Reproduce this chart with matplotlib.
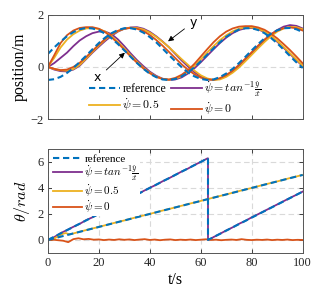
import numpy as np
import matplotlib
matplotlib.use("Agg")
import matplotlib.pyplot as plt

plt.rcParams['font.family'] = ['Liberation Serif', 'DejaVu Serif']
plt.rcParams['mathtext.fontset'] = 'cm'

BLUE = '#0072BD'
ORANGE = '#D95319'
YELLOW = '#EDB120'
PURPLE = '#7E2F8E'

# ---- top panel: positions sampled every 2.5 s ----
t_pos = np.linspace(0, 100, 41)
x_ref = [0.50, 0.75, 0.98, 1.18, 1.34, 1.45, 1.50, 1.48, 1.41, 1.28, 1.10, 0.88, 0.64, 0.39,
         0.15, -0.07, -0.26, -0.39, -0.48, -0.50, -0.46, -0.36, -0.21, -0.01, 0.22, 0.47, 0.72,
         0.95, 1.16, 1.32, 1.44, 1.49, 1.49, 1.42, 1.30, 1.12, 0.91, 0.67, 0.42, 0.18, -0.04]
y_ref = [-0.50, -0.47, -0.38, -0.23, -0.04, 0.19, 0.43, 0.68, 0.92, 1.13, 1.30, 1.42, 1.49, 1.49,
         1.44, 1.32, 1.15, 0.95, 0.71, 0.46, 0.22, -0.01, -0.21, -0.36, -0.46, -0.50, -0.48,
         -0.39, -0.25, -0.07, 0.15, 0.39, 0.64, 0.88, 1.10, 1.28, 1.41, 1.49, 1.50, 1.45, 1.34]
x_tan = [0.00, 0.15, 0.35, 0.55, 0.80, 1.02, 1.18, 1.30, 1.36, 1.36, 1.26, 1.06, 0.80, 0.52,
         0.26, 0.03, -0.18, -0.34, -0.45, -0.50, -0.48, -0.40, -0.25, -0.05, 0.18, 0.43, 0.68,
         0.92, 1.13, 1.30, 1.42, 1.49, 1.50, 1.45, 1.34, 1.18, 0.97, 0.74, 0.50, 0.26, 0.03]
y_tan = [0.00, -0.10, -0.16, -0.17, -0.10, 0.05, 0.30, 0.55, 0.78, 1.00, 1.20, 1.36, 1.47, 1.52,
         1.53, 1.47, 1.35, 1.18, 0.98, 0.76, 0.50, 0.25, 0.02, -0.20, -0.36, -0.47, -0.50,
         -0.45, -0.33, -0.16, 0.06, 0.30, 0.55, 0.80, 1.04, 1.25, 1.42, 1.55, 1.61, 1.58, 1.48]
x_05 = [0.00, 0.35, 0.75, 1.05, 1.26, 1.40, 1.48, 1.50, 1.46, 1.36, 1.18, 0.96, 0.71, 0.45,
        0.20, -0.03, -0.22, -0.37, -0.46, -0.49, -0.45, -0.35, -0.18, 0.04, 0.29, 0.55, 0.80,
        1.03, 1.22, 1.37, 1.47, 1.52, 1.52, 1.47, 1.36, 1.20, 1.00, 0.77, 0.53, 0.29, 0.05]
y_05 = [0.00, -0.08, -0.13, -0.14, -0.08, 0.08, 0.32, 0.58, 0.82, 1.05, 1.24, 1.38, 1.47, 1.51,
        1.50, 1.44, 1.32, 1.16, 0.97, 0.76, 0.53, 0.30, 0.08, -0.14, -0.32, -0.44, -0.50,
        -0.48, -0.38, -0.22, -0.02, 0.22, 0.47, 0.72, 0.96, 1.18, 1.36, 1.48, 1.54, 1.53, 1.45]
x_0 = [0.00, 0.45, 0.92, 1.22, 1.40, 1.50, 1.53, 1.53, 1.47, 1.34, 1.14, 0.92, 0.66, 0.40,
       0.16, -0.06, -0.24, -0.38, -0.46, -0.48, -0.42, -0.30, -0.12, 0.12, 0.40, 0.68, 0.95,
       1.18, 1.36, 1.48, 1.55, 1.57, 1.57, 1.52, 1.43, 1.28, 1.10, 0.88, 0.65, 0.40, 0.14]
y_0 = [0.00, -0.07, -0.12, -0.10, 0.00, 0.16, 0.38, 0.62, 0.86, 1.08, 1.26, 1.39, 1.47, 1.50,
       1.47, 1.38, 1.23, 1.04, 0.82, 0.58, 0.34, 0.10, -0.11, -0.28, -0.41, -0.48, -0.49,
       -0.43, -0.31, -0.14, 0.08, 0.32, 0.57, 0.82, 1.05, 1.25, 1.40, 1.49, 1.52, 1.49, 1.40]

# ---- bottom panel: heading ----
t_ref1 = [0, 62.83, 62.83, 100]
th_ref1 = [0, 6.283, 0, 3.717]
t_ref2 = [0, 100]
th_ref2 = [0, 5.0]
t_tan = [0, 2.5, 5, 7.5, 10, 12.5, 15, 17.5, 20, 22.5, 25, 27.5, 30, 32.5, 35, 37.5, 40, 42.5,
         45, 47.5, 50, 52.5, 55, 57.5, 60, 62.5, 62.83, 62.83, 63.5, 65, 67.5, 70, 72.5, 75,
         77.5, 80, 82.5, 85, 87.5, 90, 92.5, 95, 97.5, 100]
th_tan = [0, 0.22, 0.52, 0.76, 1.01, 1.24, 1.52, 1.74, 2.01, 2.24, 2.51, 2.74, 3.01, 3.26,
          3.49, 3.76, 4.01, 4.24, 4.51, 4.74, 5.00, 5.26, 5.49, 5.76, 6.00, 6.26, 6.28, 0.02,
          0.04, 0.22, 0.47, 0.73, 0.97, 1.24, 1.47, 1.74, 1.98, 2.23, 2.48, 2.73, 2.98, 3.23,
          3.47, 3.72]
t_05 = [0, 2, 4, 6, 7, 8.5, 10, 15, 20, 25, 30, 35, 40, 45, 50, 55, 60, 65, 70, 75, 80, 85,
        90, 95, 100]
th_05 = [0, 0.05, 0.28, 0.48, 0.53, 0.43, 0.50, 0.76, 1.00, 1.26, 1.50, 1.76, 2.00, 2.26,
         2.50, 2.76, 3.00, 3.26, 3.50, 3.76, 4.00, 4.26, 4.50, 4.76, 5.00]
t_0 = np.linspace(0, 100, 51)
th_0 = [0.00, 0.02, -0.02, -0.06, -0.17, 0.06, 0.13, 0.05, 0.08, 0.02, 0.04, -0.01, 0.03,
        0.00, 0.05, 0.01, 0.04, -0.01, 0.03, 0.06, 0.00, 0.03, -0.02, 0.02, 0.04, -0.01,
        0.02, 0.00, 0.03, -0.01, 0.02, 0.05, 0.00, 0.02, -0.02, 0.01, 0.03, 0.00, 0.06,
        0.01, -0.01, 0.02, 0.00, 0.03, -0.01, 0.02, 0.00, 0.03, -0.01, 0.01, 0.00]

lab_ref = 'reference'
lab_tan = r'$\dot{\psi}=tan^{-1}\frac{\dot{y}}{\dot{x}}$'
lab_05 = r'$\dot{\psi}=0.5$'
lab_0 = r'$\dot{\psi}=0$'

fig = plt.figure(figsize=(3.19, 2.99), dpi=100)
ax1 = fig.add_axes([0.150, 0.602, 0.799, 0.348])
ax2 = fig.add_axes([0.150, 0.154, 0.799, 0.348])

lw = 1.3
dash = (0, (3, 1.8))

ax1.plot(t_pos, x_tan, color=PURPLE, lw=lw)
l_tan, = ax1.plot(t_pos, y_tan, color=PURPLE, lw=lw)
ax1.plot(t_pos, x_05, color=YELLOW, lw=lw)
l_05, = ax1.plot(t_pos, y_05, color=YELLOW, lw=lw)
ax1.plot(t_pos, x_0, color=ORANGE, lw=lw)
l_0, = ax1.plot(t_pos, y_0, color=ORANGE, lw=lw)
l_ref, = ax1.plot(t_pos, x_ref, color=BLUE, lw=1.5, ls=dash)
ax1.plot(t_pos, y_ref, color=BLUE, lw=1.5, ls=dash)

ax1.set_xlim(0, 100)
ax1.set_ylim(-2, 2)
ax1.set_yticks([-2, 0, 2])
ax1.set_xticks([0, 20, 40, 60, 80, 100])
ax1.set_xticklabels([])
ax1.yaxis.grid(True, ls=(0, (5, 3)), color='#d9d9d9', lw=0.8)
ax1.set_ylabel('position/m', fontsize=11.5, labelpad=2)
ax1.legend([l_ref, l_05, l_tan, l_0], [lab_ref, lab_05, lab_tan, lab_0], ncol=2,
           loc='lower center', bbox_to_anchor=(0.5, -0.06), frameon=False, fontsize=8.5,
           handlelength=2.6, handletextpad=0.2, columnspacing=0.4, labelspacing=0.05,
           borderpad=0.2)
ax1.annotate('x', xy=(31, 0.62), xytext=(19.6, -0.42), fontsize=9, family='DejaVu Sans',
             ha='center', va='center',
             arrowprops=dict(arrowstyle='-|>', color='black', lw=0.6, mutation_scale=8))
ax1.annotate('y', xy=(46.3, 0.92), xytext=(57, 1.72), fontsize=9, family='DejaVu Sans',
             ha='center', va='center',
             arrowprops=dict(arrowstyle='-|>', color='black', lw=0.6, mutation_scale=8))

b_tan, = ax2.plot(t_tan, th_tan, color=PURPLE, lw=lw)
b_05, = ax2.plot(t_05, th_05, color=YELLOW, lw=lw)
b_0, = ax2.plot(t_0, th_0, color=ORANGE, lw=lw)
b_ref, = ax2.plot(t_ref1, th_ref1, color=BLUE, lw=1.5, ls=dash)
ax2.plot(t_ref2, th_ref2, color=BLUE, lw=1.5, ls=dash)

ax2.set_xlim(0, 100)
ax2.set_ylim(-1, 7)
ax2.set_xticks([0, 20, 40, 60, 80, 100])
ax2.set_yticks([0, 2, 4, 6])
ax2.grid(True, ls=(0, (5, 3)), color='#d9d9d9', lw=0.8)
ax2.set_axisbelow(True)
ax2.set_xlabel('t/s', fontsize=11.5, labelpad=2)
ax2.set_ylabel(r'$\theta/rad$', fontsize=11.5, labelpad=4)
leg = ax2.legend([b_ref, b_tan, b_05, b_0], [lab_ref, lab_tan, lab_05, lab_0],
                 loc='upper left', bbox_to_anchor=(-0.005, 1.015), fontsize=8, frameon=True,
                 framealpha=1, facecolor='white', edgecolor='none', handlelength=2.6,
                 handletextpad=0.2, labelspacing=-0.05, borderpad=0.1)
leg.get_frame().set_linewidth(0)

for ax in (ax1, ax2):
    ax.tick_params(direction='in', length=3, width=0.6, labelsize=9, top=True, right=True,
                   colors='#262626', pad=3)
    for s in ax.spines.values():
        s.set_color('#555555')
        s.set_linewidth(0.7)

fig.savefig('out.png', dpi=100)
